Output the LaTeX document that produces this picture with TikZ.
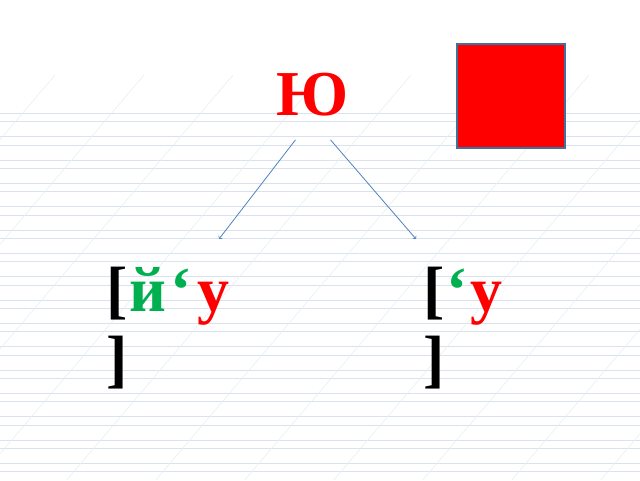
\documentclass[tikz,border=0pt]{standalone}
\usepackage{fontspec}
\setmainfont{Liberation Serif}
\usepackage{xcolor}
\usetikzlibrary{positioning}
\definecolor{vowelred}{RGB}{255,0,0}
\definecolor{soundgreen}{RGB}{0,176,80}
\definecolor{arrowblue}{RGB}{79,129,189}
\definecolor{boxblue}{RGB}{65,113,156}
\definecolor{ruleblue}{RGB}{218,227,237}
\definecolor{slantblue}{RGB}{232,237,244}

\begin{document}
\begin{tikzpicture}[x=1pt, y=-1pt,
  letter/.style={font=\fontsize{64}{69}\selectfont\bfseries, inner sep=0pt, align=left},
  rule/.style={draw=ruleblue, line width=0.6pt},
  slant/.style={draw=slantblue, line width=0.6pt},
  arrowline/.style={->, draw=arrowblue, line width=0.8pt},
  vowelbox/.style={draw=boxblue, fill=vowelred, line width=1.5pt, minimum width=108pt, minimum height=104pt, inner sep=0pt}]
            \useasboundingbox (0,0) rectangle (640,480);

            %Page lines
            \begin{scope}
            \clip (0,0) rectangle (640,480);
            \foreach \k in {0,...,15}{
                \draw[rule] (0,113.3+23.33*\k) -- (640,113.3+23.33*\k);
                \draw[rule] (0,121.7+23.33*\k) -- (640,121.7+23.33*\k);
            }
            \foreach \k in {0,...,10}
                \draw[slant] (55+89*\k,75) -- (55+89*\k-344.25,480);
            \end{scope}

            %Nodes
            \node[letter, text=vowelred, anchor=base, inner ysep=24pt](yu) at (312.5,115){Ю};
            \node[vowelbox](vowel) at (511,96){};
            \node[letter, anchor=base west](leftword) at (106,380){[\kern2pt\textcolor{soundgreen}{й\kern4pt‘}\kern6pt\textcolor{vowelred}{у}\\]};
            \node[letter](rightword)[right=193pt of leftword]{[\kern2pt\textcolor{soundgreen}{‘}\kern3pt\textcolor{vowelred}{у}\\]};
            \coordinate (lefttip) at (219,239);
            \coordinate (righttip) at (416,239);

            %Lines
            \draw[arrowline] ([xshift=-17pt]yu.south) -- (lefttip);
            \draw[arrowline] ([xshift=18pt]yu.south) -- (righttip);
        \end{tikzpicture}
\end{document}
